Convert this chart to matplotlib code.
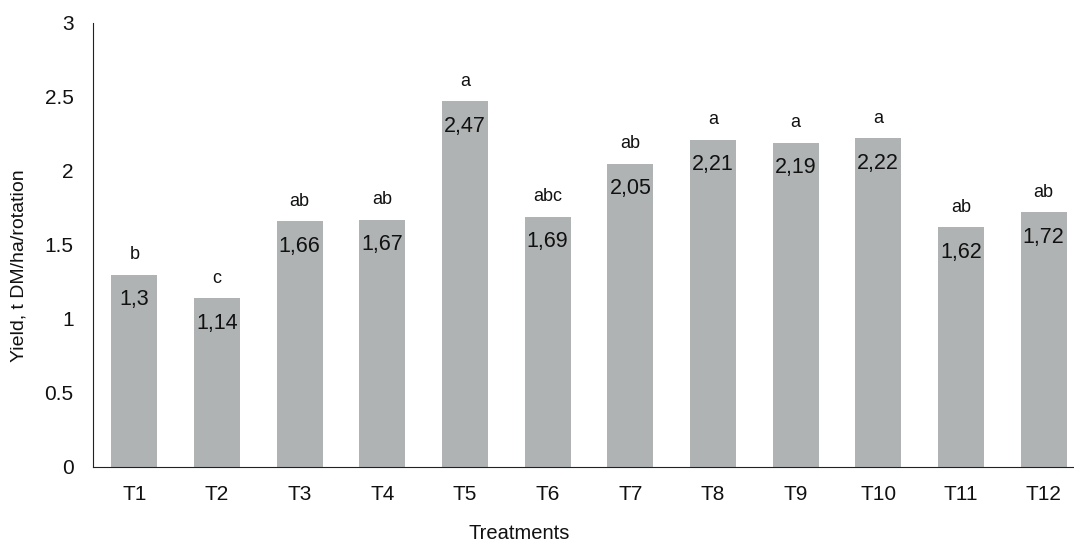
import matplotlib.pyplot as plt
import numpy as np

treatments = ["T1", "T2", "T3", "T4", "T5", "T6", "T7", "T8", "T9", "T10", "T11", "T12"]
yields = [1.30, 1.14, 1.66, 1.67, 2.47, 1.69, 2.05, 2.21, 2.19, 2.22, 1.62, 1.72]
value_labels = ["1,3", "1,14", "1,66", "1,67", "2,47", "1,69", "2,05", "2,21", "2,19", "2,22", "1,62", "1,72"]
letters = ["b", "c", "ab", "ab", "a", "abc", "ab", "a", "a", "a", "ab", "ab"]

plt.rcParams['font.family'] = ['Liberation Sans', 'DejaVu Sans']

fig = plt.figure(figsize=(10.74, 5.43), dpi=100)
ax = fig.add_axes([0.0866, 0.14, 0.9236, 0.8177])

x = np.arange(len(treatments))
ax.bar(x, yields, width=0.555, color="#b0b3b3")

# value labels inside bars, significance letters above
for xi, y, lab, let in zip(x, yields, value_labels, letters):
    ax.annotate(lab, (xi, y), xytext=(0, -25), textcoords="offset pixels",
                ha="center", va="center", fontsize=15.5, color="#111111")
    ax.annotate(let, (xi, y), xytext=(0, 20), textcoords="offset pixels",
                ha="center", va="center", fontsize=13, color="#111111")

ax.set_xlim(-0.5, len(treatments) - 0.5)
ax.set_ylim(0, 3)
ax.set_yticks([0, 0.5, 1, 1.5, 2, 2.5, 3])
ax.set_yticklabels(["0", "0.5", "1", "1.5", "2", "2.5", "3"])
ax.set_xticks(x)
ax.set_xticklabels(treatments)
ax.tick_params(axis="both", length=0, labelsize=15, colors="#111111")
ax.tick_params(axis="y", pad=14)
ax.tick_params(axis="x", pad=13)

for side in ["top", "right"]:
    ax.spines[side].set_visible(False)
ax.spines["left"].set_color("#222222")
ax.spines["bottom"].set_color("#222222")

ax.set_ylabel("Yield, t DM/ha/rotation", fontsize=14, color="#111111")
ax.yaxis.set_label_coords(-0.075, 0.453)
ax.yaxis.label.set_va("center")
ax.set_xlabel("Treatments", fontsize=14.5, color="#111111")
ax.xaxis.set_label_coords(0.43, -0.15)
ax.xaxis.label.set_va("center")

fig.savefig("out.png", dpi=100)
